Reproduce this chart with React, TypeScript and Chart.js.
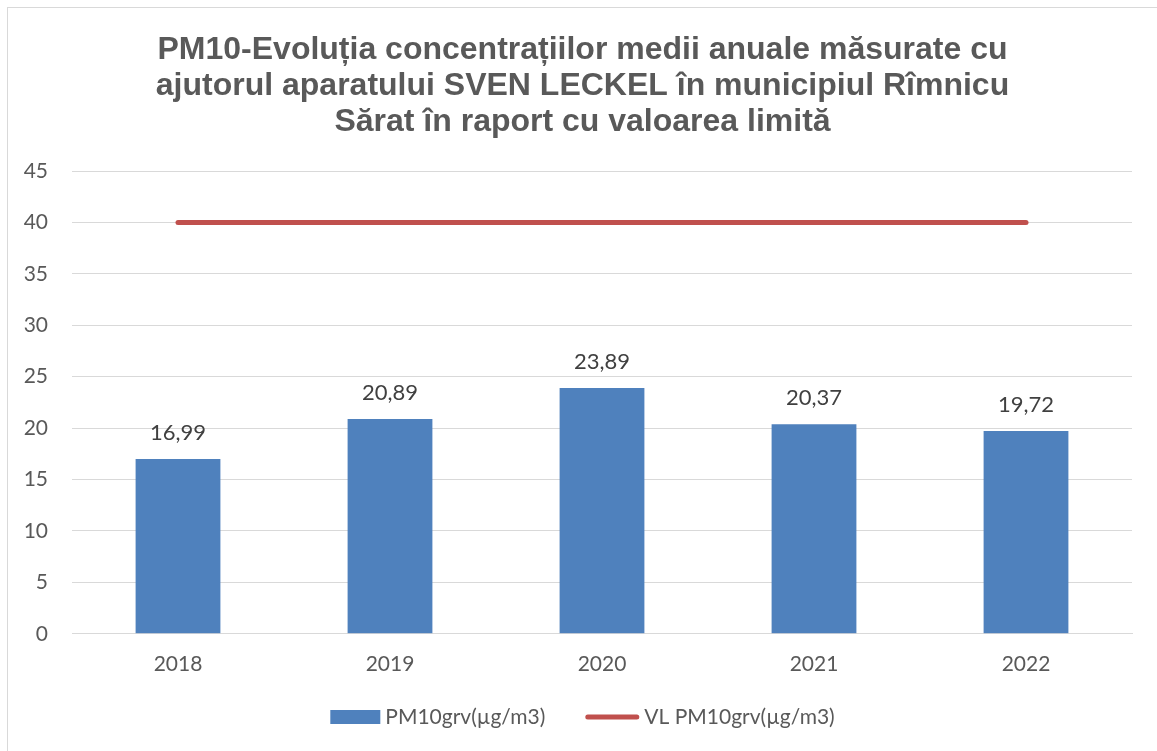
import React, { useEffect, useRef } from "react";
import { Chart, registerables } from "chart.js";

Chart.register(...registerables);

const titleLines = [
  "PM10-Evoluția concentrațiilor medii anuale măsurate cu",
  "ajutorul aparatului SVEN LECKEL în municipiul Rîmnicu",
  "Sărat în raport cu valoarea limită",
];
const years = ["2018", "2019", "2020", "2021", "2022"];
const pm10Values = [16.99, 20.89, 23.89, 20.37, 19.72];
const limitValues = [40, 40, 40, 40, 40];
const barLabel = "PM10grv(µg/m3)";
const lineLabel = "VL PM10grv(µg/m3)";

const BAR_COLOR = "#4F81BD";
const LINE_COLOR = "#C0504D";
const TEXT_COLOR = "#595959";
const FONT = "Lato, 'Open Sans', sans-serif";

const dataLabelPlugin = {
  id: "dataLabels",
  afterDatasetsDraw(chart: any) {
    const ctx = chart.ctx;
    const meta = chart.getDatasetMeta(1);
    ctx.save();
    ctx.font = `22px ${FONT}`;
    ctx.fillStyle = "#404040";
    ctx.textAlign = "center";
    ctx.textBaseline = "middle";
    meta.data.forEach((el: any, i: number) => {
      const v = pm10Values[i];
      ctx.fillText(v.toFixed(2).replace(".", ","), el.x, el.y - 26);
    });
    ctx.restore();
  },
};

const customLegendPlugin = {
  id: "customLegend",
  afterDraw(chart: any) {
    const ctx = chart.ctx;
    ctx.save();
    ctx.font = `21px ${FONT}`;
    ctx.textBaseline = "middle";
    ctx.textAlign = "left";
    const w1 = ctx.measureText(barLabel).width;
    const w2 = ctx.measureText(lineLabel).width;
    const boxW = 50;
    const lineW = 54;
    const gap = 5;
    const spacing = 40;
    const total = boxW + gap + w1 + spacing + lineW + gap + w2;
    let x = chart.width / 2 - total / 2;
    const y = 709;
    ctx.fillStyle = BAR_COLOR;
    ctx.fillRect(x, y - 7, boxW, 14);
    x += boxW + gap;
    ctx.fillStyle = TEXT_COLOR;
    ctx.fillText(barLabel, x, y);
    x += w1 + spacing;
    ctx.strokeStyle = LINE_COLOR;
    ctx.lineWidth = 5;
    ctx.lineCap = "round";
    ctx.beginPath();
    ctx.moveTo(x + 2.5, y);
    ctx.lineTo(x + lineW - 2.5, y);
    ctx.stroke();
    x += lineW + gap;
    ctx.fillStyle = TEXT_COLOR;
    ctx.fillText(lineLabel, x, y);
    ctx.restore();
  },
};

export default function App() {
  const canvasRef = useRef<HTMLCanvasElement>(null);

  useEffect(() => {
    const canvas = canvasRef.current;
    if (!canvas) return;
    const chart = new Chart(canvas, {
      type: "bar",
      data: {
        labels: years,
        datasets: [
          {
            type: "line" as any,
            label: lineLabel,
            data: limitValues,
            borderColor: LINE_COLOR,
            backgroundColor: LINE_COLOR,
            borderWidth: 5,
            borderCapStyle: "round",
            pointRadius: 0,
            order: 0,
          } as any,
          {
            type: "bar",
            label: barLabel,
            data: pm10Values,
            backgroundColor: BAR_COLOR,
            categoryPercentage: 1,
            barPercentage: 0.4,
            order: 1,
          },
        ],
      },
      options: {
        responsive: false,
        animation: false,
        layout: { padding: { left: 0, right: 0, top: 0, bottom: 56 } },
        plugins: {
          legend: { display: false },
          tooltip: { enabled: false },
          title: {
            display: true,
            text: titleLines,
            color: TEXT_COLOR,
            font: { family: "'Liberation Sans', Arial, sans-serif", size: 32, weight: "bold", lineHeight: 36 / 32 },
            padding: { top: 24, bottom: 31 },
          },
        },
        scales: {
          x: {
            grid: { display: false, drawTicks: false },
            border: { display: true, color: "#d9d9d9", width: 1 },
            ticks: { color: TEXT_COLOR, font: { family: FONT, size: 21 }, padding: 18 },
          },
          y: {
            min: 0,
            max: 45,
            afterFit: (scale: any) => {
              scale.width = 64;
            },
            grid: { color: "#d9d9d9", lineWidth: 1, drawTicks: false },
            border: { display: false },
            ticks: { stepSize: 5, color: TEXT_COLOR, font: { family: FONT, size: 21 }, padding: 24 },
          },
          ySpacer: {
            position: "right",
            min: 0,
            max: 45,
            afterFit: (scale: any) => {
              scale.width = 25;
            },
            grid: { display: false, drawTicks: false },
            border: { display: false },
            ticks: { display: false },
          },
        },
      },
      plugins: [dataLabelPlugin, customLegendPlugin],
    });
    return () => chart.destroy();
  }, []);

  return (
    <div
      style={{
        position: "fixed",
        left: 7,
        top: 7,
        width: 1150,
        height: 744,
        borderLeft: "1px solid #d9d9d9",
        borderTop: "1px solid #d9d9d9",
        background: "#fff",
      }}
    >
      <canvas ref={canvasRef} width={1149} height={743} style={{ display: "block" }} />
    </div>
  );
}
